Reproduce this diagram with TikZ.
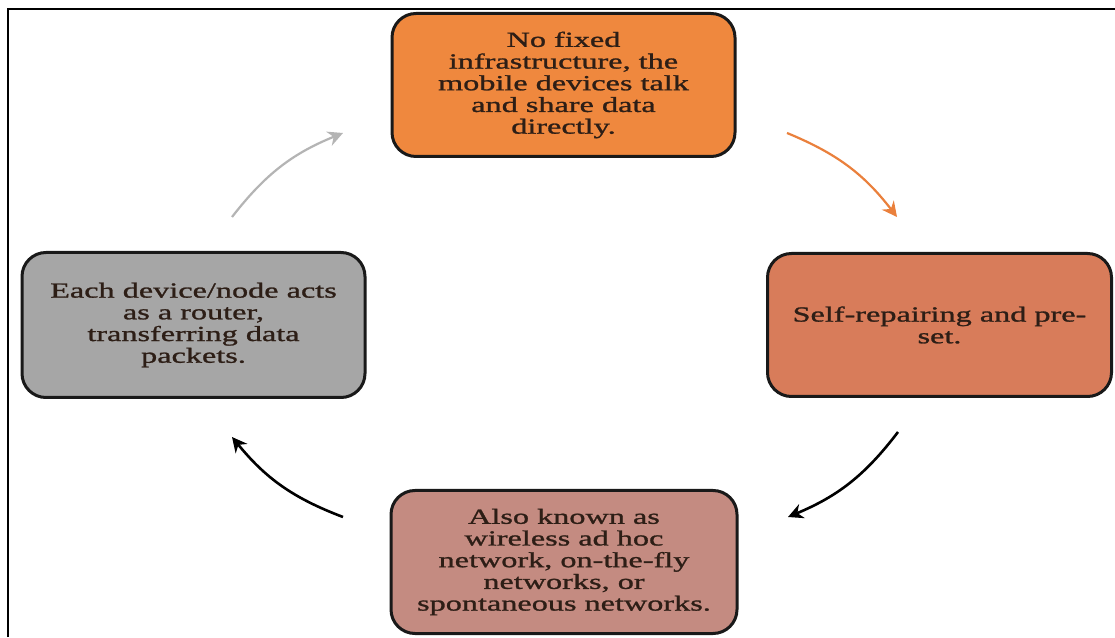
\documentclass[tikz,border=0pt]{standalone}
\usepackage{fontspec}
\usetikzlibrary{arrows.meta}
\newfontfamily\boxfont[FakeStretch=1.5,FakeBold=1.2]{Liberation Serif}
\definecolor{topfill}{RGB}{239,136,62}
\definecolor{rightfill}{RGB}{216,124,90}
\definecolor{bottomfill}{RGB}{196,139,129}
\definecolor{leftfill}{RGB}{166,166,166}
\definecolor{boxtext}{RGB}{45,30,22}
\definecolor{greyarrow}{RGB}{180,180,180}
\definecolor{orangearrow}{RGB}{234,128,60}
\tikzset{
  cyclebox/.style={draw=black!90, line width=3pt, rounded corners=24pt,
    minimum width=343pt, minimum height=143pt, align=center,
    text=boxtext, font=\boxfont\fontsize{21.5pt}{21.7pt}\selectfont},
  cyclearrow/.style={line width=2.6pt, bend left=15,
    -{Stealth[length=15pt,width=15pt]}},
}
\begin{document}
\begin{tikzpicture}[x=1pt,y=1pt]
  \useasboundingbox (0,0) rectangle (1115,637);
  \fill[white] (0,0) rectangle (1115,637);
  % frame lines along the left and top edges
  \draw[line width=2.5pt] (8,0) -- (8,628) -- (1115,628);

  % the four stages of the cycle
  \node[cyclebox, fill=topfill] (top) at (563.5,552)
    {No fixed\\infrastructure, the\\mobile devices talk\\and share data\\directly.};
  \node[cyclebox, fill=rightfill, minimum width=344pt] (right) at (939.5,312)
    {Self-repairing and pre-\\set.};
  \node[cyclebox, fill=bottomfill, minimum width=346pt] (bottom) at (564,75)
    {Also known as\\wireless ad hoc\\network, on-the-fly\\networks, or\\spontaneous networks.};
  \node[cyclebox, fill=leftfill, minimum height=145pt] (left) at (193.5,312)
    {Each device/node acts\\as a router,\\transferring data\\packets.};

  % free ends of the curved arrows
  \coordinate (g1) at (232,420);
  \coordinate (g2) at (343,504);
  \coordinate (o1) at (787,504);
  \coordinate (o2) at (897,420);
  \coordinate (r1) at (898,205);
  \coordinate (r2) at (788,120);
  \coordinate (l1) at (343,120);
  \coordinate (l2) at (232,200);

  \draw[cyclearrow, greyarrow, line width=2.2pt] (g1) to (g2);
  \draw[cyclearrow, orangearrow, line width=2.2pt] (o1) to (o2);
  \draw[cyclearrow, black] (r1) to (r2);
  \draw[cyclearrow, black] (l1) to (l2);
\end{tikzpicture}
\end{document}
